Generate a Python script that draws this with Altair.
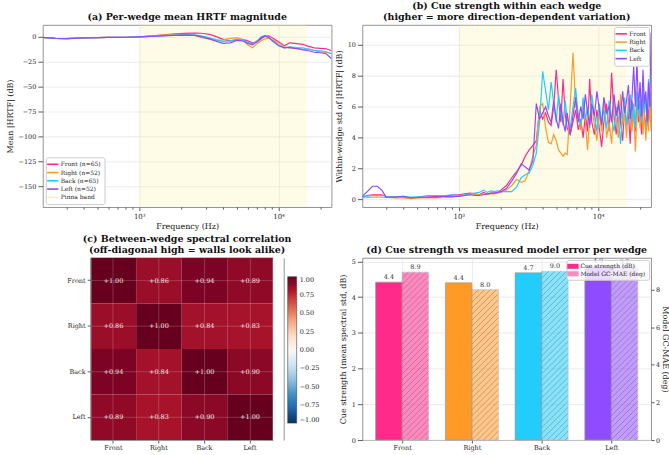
import altair as alt
import pandas as pd

FONT = "DejaVu Serif"

# ---------------- data ----------------
WEDGES = ["Front", "Right", "Back", "Left"]
COUNTS = [65, 52, 65, 52]
COLORS = ["#ff2a8a", "#ff9a26", "#22cdfc", "#8f4bff"]
BAND_LO = [1000]
BAND_HI = [16000]
BAND_LABEL = "Pinna band"

FREQ_A = [200, 250, 300, 400, 500, 600, 700, 800, 1000, 1200,
          1500, 1800, 2100, 2500, 2800, 3200, 3600, 4000, 4500, 5000,
          5500, 6000, 6500, 7000, 7500, 8000, 8500, 9000, 10000, 11000,
          12000, 13000, 14000, 15000, 16000, 17000, 18000, 20000, 22000, 24000]
MEAN_FRONT = [-0.5, -1.5, -1.8, -1.0, -0.8, -0.6, -0.5, -0.4, 0.0, 0.8,
              2.0, 3.0, 3.5, 3.8, 3.6, 2.5, 0.0, -2.5, -4.0, -3.0,
              -2.5, -4.0, -6.0, -5.0, -2.0, 0.5, 1.0, -1.0, -5.0, -9.0,
              -6.0, -6.5, -7.0, -7.5, -9.0, -10.0, -11.0, -11.5, -12.0, -14.0]
MEAN_RIGHT = [-0.5, -1.5, -1.8, -1.0, -0.8, -0.6, -0.5, -0.4, 0.0, 0.8,
              1.8, 2.5, 2.5, 1.5, -0.5, -2.5, -3.5, -3.0, -1.5, -1.0,
              -2.5, -8.0, -11.0, -7.0, -4.0, -2.0, -1.0, -3.0, -6.0, -10.0,
              -11.0, -11.5, -12.0, -12.5, -12.0, -13.0, -14.0, -15.0, -15.5, -17.0]
MEAN_BACK = [-0.5, -1.5, -1.8, -1.0, -0.8, -0.6, -0.5, -0.4, 0.0, 0.5,
             1.2, 1.8, 2.0, 2.0, 1.0, -1.0, -3.0, -4.5, -4.0, -2.5,
             -3.0, -5.5, -7.0, -4.0, 0.0, 1.5, -1.0, -3.5, -8.0, -11.0,
             -10.0, -10.5, -11.0, -11.0, -12.0, -12.5, -13.5, -14.0, -15.0, -17.0]
MEAN_LEFT = [-0.5, -1.5, -1.8, -1.0, -0.8, -0.6, -0.5, -0.4, 0.0, 0.4,
             1.0, 1.5, 1.8, 1.5, 0.0, -2.0, -4.5, -6.5, -6.0, -3.5,
             -4.0, -6.5, -8.0, -5.0, -1.0, 1.0, -0.5, -4.0, -9.0, -11.0,
             -10.5, -11.5, -12.0, -13.0, -13.5, -14.5, -15.5, -16.0, -17.0, -22.0]

FREQ_B = [200, 220, 240, 260, 280, 300, 350, 400, 450, 500, 550, 600, 700, 800, 900,
          1000, 1100, 1200, 1300, 1400, 1500, 1600, 1700, 1800, 1900, 2000, 2200,
          2400, 2600, 2800, 3000, 3200, 3400, 3600,
          3800, 4000, 4200, 4400, 4600, 4800, 5000, 5200, 5400, 5600, 5800, 6000,
          6300, 6600, 6900, 7200, 7500, 7800, 8100, 8400, 8700, 9000,
          9400, 9800, 10200, 10600, 11000,
          11500, 12000, 12500, 13000, 13500, 14000, 14500, 15000, 15500, 16000,
          16500, 17000, 17500, 18000, 18500, 19000, 19500, 20000, 20500, 21000,
          21500, 22000, 22500, 23000, 23500, 24000]
STD_FRONT = [0.15, 0.25, 0.3, 0.3, 0.3, 0.2, 0.15, 0.15, 0.1, 0.15, 0.15, 0.15, 0.2, 0.2, 0.3,
             0.3, 0.35, 0.4, 0.35, 0.3, 0.45, 0.35, 0.4, 0.4, 0.45, 0.6, 0.9,
             1.4, 1.8, 2.2, 2.8, 3.2, 3.5, 3.8,
             5.8, 5.2, 5.6, 5.0, 4.8, 6.0, 8.4, 6.5, 5.0, 7.8, 5.5, 4.6,
             4.2, 5.0, 5.8, 4.5, 5.2, 4.0, 5.5, 4.4, 7.8, 5.0,
             4.2, 5.8, 4.6, 3.4, 5.0,
             6.2, 4.4, 8.2, 5.4, 4.2, 6.4, 5.0, 3.8, 6.0, 4.8,
             5.6, 3.6, 6.4, 5.2, 4.4, 6.6, 5.0, 5.8, 4.2, 6.8,
             5.4, 4.6, 6.2, 5.0, 7.0, 5.6]
STD_RIGHT = [0.1, 0.12, 0.15, 0.15, 0.15, 0.12, 0.1, 0.1, 0.05, 0.08, 0.1, 0.1, 0.1, 0.12, 0.15,
             0.2, 0.25, 0.3, 0.35, 0.3, 0.35, 0.3, 0.35, 0.35, 0.4, 0.45, 0.6,
             0.9, 1.3, 1.1, 1.2, 1.9, 2.8, 3.5,
             6.0, 6.2, 4.6, 3.7, 3.6, 4.2, 3.8, 3.2, 3.0, 2.8, 3.0, 2.9,
             6.0, 9.5, 6.0, 5.5, 4.5, 6.2, 5.0, 3.2, 5.4, 6.0,
             4.8, 3.8, 5.6, 4.4, 6.6,
             4.0, 5.0, 3.6, 6.4, 5.0, 4.0, 6.8, 4.8, 5.6, 4.0,
             6.6, 5.0, 4.4, 6.0, 3.1, 5.2, 6.4, 4.6, 5.6, 4.2,
             6.0, 3.8, 5.4, 4.4, 6.2, 4.4]
STD_BACK = [0.15, 0.2, 0.25, 0.25, 0.25, 0.2, 0.15, 0.2, 0.15, 0.15, 0.2, 0.25, 0.25, 0.25, 0.3,
            0.25, 0.3, 0.35, 0.4, 0.45, 0.6, 0.45, 0.55, 0.5, 0.55, 0.5, 0.5,
            0.5, 0.8, 1.4, 1.6, 1.7, 2.2, 3.0,
            5.0, 8.3, 7.0, 5.8, 7.6, 6.2, 5.0, 6.8, 5.6, 4.8, 6.4, 5.2,
            4.6, 6.0, 7.2, 5.4, 4.8, 6.6, 5.2, 6.0, 4.6, 6.8,
            5.4, 4.4, 6.2, 5.0, 5.8,
            4.6, 6.4, 5.2, 4.4, 6.0, 5.2, 3.6, 5.6, 6.6, 4.8,
            5.8, 6.8, 5.0, 6.2, 4.6, 7.0, 5.4, 6.4, 5.0, 7.4,
            5.6, 6.6, 4.8, 7.8, 6.0, 6.8]
STD_LEFT = [0.15, 0.5, 0.85, 0.85, 0.6, 0.15, 0.15, 0.2, 0.1, 0.12, 0.15, 0.15, 0.15, 0.2, 0.2,
            0.2, 0.25, 0.3, 0.25, 0.25, 0.3, 0.35, 0.4, 0.4, 0.45, 0.5, 0.7,
            1.2, 1.7, 2.3, 2.1, 1.9, 2.5, 6.2,
            5.2, 5.6, 6.0, 5.4, 5.0, 6.4, 5.2, 4.6, 6.2, 5.0, 4.4, 5.6,
            4.2, 5.4, 6.6, 5.0, 6.0, 5.2, 6.8, 5.6, 4.8, 6.2,
            5.4, 7.0, 5.8, 4.8, 6.6,
            5.6, 6.0, 5.0, 6.8, 5.4, 6.2, 5.2, 7.0, 5.6, 6.4,
            7.4, 5.2, 6.6, 8.6, 6.0, 9.0, 5.8, 7.6, 5.4, 8.4,
            6.2, 7.0, 5.0, 7.6, 6.0, 10.8]

CORR = [[1.00, 0.86, 0.94, 0.89],
        [0.86, 1.00, 0.84, 0.83],
        [0.94, 0.84, 1.00, 0.90],
        [0.89, 0.83, 0.90, 1.00]]

CUE_STRENGTH = [4.42, 4.40, 4.68, 4.86]
MODEL_MAE = [8.93, 8.00, 8.97, 9.23]
LEGEND_D = ["Cue strength (dB)", "Model GC-MAE (deg)"]

# ---------------- helpers ----------------
def long_df(freqs, series, labels):
    rows = []
    for lab, vals in zip(labels, series):
        for f, v in zip(freqs, vals):
            rows.append({"freq": f, "value": v, "wedge": lab})
    return pd.DataFrame(rows)

FRAME = "#888888"
TITLE_KW = dict(offset=3, lineHeight=11, fontSize=9.5)
MINOR = [300, 400, 500, 600, 700, 800, 900, 2000, 3000, 4000, 5000, 6000,
         7000, 8000, 9000, 20000]
xscale = alt.Scale(type="log", domain=[203, 24000], nice=False)
major_x = alt.Axis(values=[1000, 10000], orient="bottom",
                   labelExpr="datum.value == 1000 ? '10\u00b3' : '10\u2074'",
                   title="Frequency (Hz)", grid=True, tickSize=3.5,
                   labelPadding=2, titlePadding=3, labelFontSize=7)
minor_x = alt.Axis(values=MINOR, orient="bottom", labels=False, tickSize=2,
                   grid=False, title=None, domain=False)
band_df = pd.DataFrame({"lo": BAND_LO, "hi": BAND_HI})

def band_layer():
    return alt.Chart(band_df).mark_rect(color="#fbf3a6", opacity=0.28).encode(
        x=alt.X("lo:Q", scale=xscale, axis=minor_x), x2="hi:Q")

def line_legend(orient, offset):
    return alt.Legend(orient=orient, title=None, symbolType="M-1.8,0H1.8",
                      symbolStrokeWidth=1.6, symbolSize=40, labelFontSize=6,
                      fillColor="white", strokeColor="#cccccc", padding=3,
                      rowPadding=0.3, offset=offset, cornerRadius=2, labelOffset=4)

# ---------------- panel a ----------------
labels_a = [f"{w} (n={n})" for w, n in zip(WEDGES, COUNTS)]
dfa = long_df(FREQ_A, [MEAN_FRONT, MEAN_RIGHT, MEAN_BACK, MEAN_LEFT], labels_a)
lines_a = alt.Chart(dfa).mark_line(strokeWidth=1.2, clip=True).encode(
    x=alt.X("freq:Q", scale=xscale, axis=major_x),
    y=alt.Y("value:Q", scale=alt.Scale(domain=[-171, 12], nice=False, zero=False),
            axis=alt.Axis(values=[0, -25, -50, -75, -100, -125, -150],
                          title="Mean |HRTF| (dB)", grid=True, titlePadding=4)),
    color=alt.Color("wedge:N",
                    scale=alt.Scale(domain=labels_a + [BAND_LABEL],
                                    range=COLORS + ["#f8f0c0"]),
                    legend=line_legend("bottom-left", 3)),
)
panel_a = alt.layer(band_layer(), lines_a).resolve_axis(x="independent").properties(
    width=290, height=183,
    title=alt.TitleParams("(a) Per-wedge mean HRTF magnitude", **TITLE_KW))

# ---------------- panel b ----------------
dfb = long_df(FREQ_B, [STD_FRONT, STD_RIGHT, STD_BACK, STD_LEFT], WEDGES)
lines_b = alt.Chart(dfb).mark_line(strokeWidth=1.2, clip=True).encode(
    x=alt.X("freq:Q", scale=xscale, axis=major_x),
    y=alt.Y("value:Q", scale=alt.Scale(domain=[-0.5, 11.3], nice=False, zero=False),
            axis=alt.Axis(values=[0, 2, 4, 6, 8, 10],
                          title="Within-wedge std of |HRTF| (dB)", grid=True,
                          titlePadding=4)),
    color=alt.Color("wedge:N", scale=alt.Scale(domain=WEDGES, range=COLORS),
                    legend=line_legend("top-right", 2)),
)
panel_b = alt.layer(band_layer(), lines_b).resolve_axis(x="independent").properties(
    width=290, height=183,
    title=alt.TitleParams(["(b) Cue strength within each wedge",
                           "(higher = more direction-dependent variation)"], **TITLE_KW))

# ---------------- panel c ----------------
HEAT = 183
crow = []
for i, r in enumerate(WEDGES):
    for j, c in enumerate(WEDGES):
        crow.append({"row": r, "col": c, "value": CORR[i][j]})
dfc = pd.DataFrame(crow)
RDBU_R = ["#053061", "#2166ac", "#4393c3", "#92c5de", "#d1e5f0", "#f7f7f7",
          "#fddbc7", "#f4a582", "#d6604d", "#b2182b", "#67001f"]
stops = [-1 + 0.2 * k for k in range(11)]
cscale_x = alt.Scale(paddingInner=0, paddingOuter=0, rangeMax=HEAT)
cscale_y = alt.Scale(paddingInner=0, paddingOuter=0)
cx = alt.X("col:N", sort=WEDGES, scale=cscale_x,
           axis=alt.Axis(title=None, labelAngle=0, grid=True, zindex=1,
                         gridColor="#eeeeee", gridOpacity=0.35, tickSize=3,
                         labelPadding=1.5, domain=True, domainColor=FRAME,
                         domainWidth=0.9))
cy = alt.Y("row:N", sort=WEDGES, scale=cscale_y,
           axis=alt.Axis(title=None, grid=False, tickSize=3.5, labelPadding=2,
                         domain=True, domainColor=FRAME, domainWidth=0.9, zindex=1))
heat = alt.Chart(dfc).mark_rect().encode(
    x=cx, y=cy,
    color=alt.Color("value:Q", scale=alt.Scale(domain=stops, range=RDBU_R),
                    legend=alt.Legend(orient="none", legendX=198, legendY=19,
                                      direction="vertical", gradientLength=147,
                                      gradientThickness=9, title=None,
                                      values=[1.0, 0.75, 0.5, 0.25, 0.0, -0.25,
                                              -0.5, -0.75, -1.0],
                                      format=".2f", labelFontSize=6.5,
                                      gradientStrokeColor="#444",
                                      gradientStrokeWidth=0.6, labelOffset=3)))
# horizontal grid lines across the cells only (drawn as rules from the categories)
hgrid = alt.Chart(pd.DataFrame({"row": WEDGES})).mark_rule(
    color="#eeeeee", opacity=0.35, strokeWidth=0.6).encode(
    y=alt.Y("row:N", sort=WEDGES, scale=cscale_y, bandPosition=0.5,
            axis=alt.Axis(orient="right", labels=False, ticks=False, grid=False,
                          title=None, domain=True, domainColor=FRAME,
                          domainWidth=0.9)),
    x=alt.value(0), x2=alt.value(HEAT))
htext = alt.Chart(dfc).mark_text(fontSize=6.5, color="#f6e4e8").encode(
    x=alt.X("col:N", sort=WEDGES, scale=cscale_x,
            axis=alt.Axis(orient="top", labels=False, ticks=False, grid=False,
                          title=None, domain=True, domainColor=FRAME,
                          domainWidth=0.9)),
    y=alt.Y("row:N", sort=WEDGES, scale=cscale_y, axis=None),
    text=alt.Text("value:Q", format="+.2f"))
panel_c = alt.layer(heat, hgrid, htext).resolve_axis(
    x="independent", y="independent").properties(
    width=HEAT + 11, height=HEAT, view=alt.ViewBackground(stroke="transparent"),
    title=alt.TitleParams(["(c) Between-wedge spectral correlation",
                           "(off-diagonal high = walls look alike)"], **TITLE_KW))

# ---------------- panel d ----------------
BAR_W = 0.38
dfd = pd.DataFrame({"wedge": WEDGES, "idx": list(range(len(WEDGES))),
                    "cue": CUE_STRENGTH, "mae": MODEL_MAE})
XD = [-0.57, 3.57]
YC = [0, 5.1]
YM = [0, 9.69]
label_expr = "[" + ",".join(f"'{w}'" for w in WEDGES) + "][datum.value]"
xd_axis = alt.Axis(values=list(range(len(WEDGES))), labelExpr=label_expr,
                   title=None, grid=True, tickSize=3, labelPadding=1.5)
xd_scale = alt.Scale(domain=XD, nice=False, zero=False)
wcolor = alt.Color("wedge:N", scale=alt.Scale(domain=WEDGES, range=COLORS), legend=None)

base_d = alt.Chart(dfd).transform_calculate(
    c0=f"datum.idx - {BAR_W}", c1="datum.idx", cm=f"datum.idx - {BAR_W / 2}",
    m0="datum.idx", m1=f"datum.idx + {BAR_W}", mm=f"datum.idx + {BAR_W / 2}")

cue_y = alt.Y("cue:Q", scale=alt.Scale(domain=YC, nice=False),
              axis=alt.Axis(values=[0, 1, 2, 3, 4, 5], grid=True,
                            title="Cue strength (mean spectral std, dB)",
                            titlePadding=4))
cue_bars = base_d.mark_bar(stroke="#9a9a9a", strokeWidth=0.7).encode(
    x=alt.X("c0:Q", scale=xd_scale, axis=xd_axis), x2="c1:Q",
    y=cue_y, y2=alt.Y2Datum(0), color=wcolor)
cue_text = base_d.mark_text(dy=-5, fontSize=6.5, color="#333").encode(
    x=alt.X("cm:Q", scale=xd_scale, axis=xd_axis), y=cue_y,
    text=alt.Text("cue:Q", format=".1f"))

mae_y = alt.Y("mae:Q", scale=alt.Scale(domain=YM, nice=False),
              axis=alt.Axis(values=[0, 2, 4, 6, 8], orient="right", grid=False,
                            title="Model GC-MAE (deg)", titlePadding=0.5,
                            tickSize=3, labelPadding=1.5))
mae_bars = base_d.mark_bar(stroke="#9a9a9a", strokeWidth=0.7, opacity=0.55).encode(
    x=alt.X("m0:Q", scale=xd_scale, axis=xd_axis), x2="m1:Q",
    y=mae_y, y2=alt.Y2Datum(0), color=wcolor)
mae_text = base_d.mark_text(dy=-5, fontSize=6.5, color="#333").encode(
    x=alt.X("mm:Q", scale=xd_scale, axis=xd_axis), y=mae_y,
    text=alt.Text("mae:Q", format=".1f"))

# hatch segments ("//") inside the MAE bars, derived from the bar values
PW, PH = 290, 183
px_x = PW / (XD[1] - XD[0])
px_y = PH / (YM[1] - YM[0])
STEP = 6.0
hrows = []
for i, v in enumerate(MODEL_MAE):
    W = BAR_W * px_x
    H = v * px_y
    cc = -W + STEP / 2
    while cc < H:
        xs0 = max(0.0, -cc)
        xs1 = min(W, H - cc)
        if xs1 > xs0:
            hrows.append({"hx": i + xs0 / px_x, "hx2": i + xs1 / px_x,
                          "mae": (xs0 + cc) / px_y, "hy2": (xs1 + cc) / px_y})
        cc += STEP
hatch = alt.Chart(pd.DataFrame(hrows)).mark_rule(color="#555", strokeWidth=0.5,
                                                  opacity=0.75).encode(
    x=alt.X("hx:Q", scale=xd_scale, axis=xd_axis), x2="hx2:Q", y=mae_y, y2="hy2:Q")

legend_d = alt.Chart(pd.DataFrame({"series": LEGEND_D})).transform_filter(
    "false").mark_rect().encode(
    fill=alt.Fill("series:N", scale=alt.Scale(domain=LEGEND_D,
                                              range=[COLORS[0], "#ff8abf"]),
                  legend=alt.Legend(orient="top-right", title=None,
                                    symbolType="M-1.8,-0.8H1.8V0.8H-1.8Z",
                                    symbolSize=40, symbolStrokeWidth=0,
                                    labelFontSize=6, fillColor="rgba(255,255,255,0.8)",
                                    strokeColor="#cccccc", padding=3, rowPadding=0.5,
                                    offset=2, cornerRadius=2, labelOffset=4)))

panel_d = alt.layer(alt.layer(cue_bars, cue_text),
                    alt.layer(mae_bars, hatch, mae_text),
                    legend_d).resolve_scale(y="independent").properties(
    width=290, height=183,
    title=alt.TitleParams("(d) Cue strength vs measured model error per wedge",
                          **TITLE_KW))

# ---------------- layout ----------------
chart = alt.concat(panel_a, panel_b, panel_c, panel_d, columns=2,
                   spacing={"row": 51, "column": 31}, bounds="flush",
                   align="all", center=True).resolve_scale(
    color="independent", fill="independent").properties(
    padding={"left": 5, "top": 0, "right": 0, "bottom": 0}
).configure(font=FONT).configure_view(
    stroke=FRAME, strokeWidth=0.9
).configure_axis(
    labelFontSize=6.5, titleFontSize=8, labelColor="#222222", titleColor="#111111",
    tickColor="#333333", tickWidth=0.8, domain=False, gridColor="#dddddd",
    gridWidth=0.6, labelFont=FONT, titleFont=FONT, titleFontWeight="normal"
).configure_title(
    font=FONT, fontSize=9.5, fontWeight="bold", color="#111111", anchor="middle"
).configure_legend(labelFont=FONT, labelColor="#222222")

chart.save("out.html", embed_options={"renderer": "svg", "actions": False})
